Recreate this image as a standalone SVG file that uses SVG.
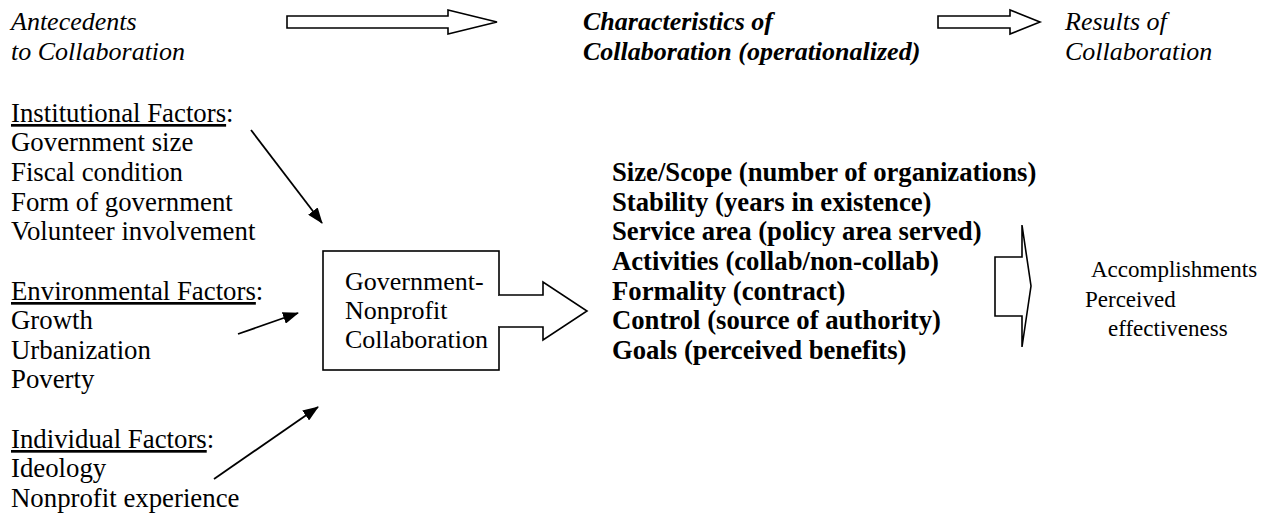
<svg xmlns="http://www.w3.org/2000/svg" width="1267" height="519" viewBox="0 0 1267 519">
  <style>
    text { font-family: "Liberation Serif", "Times New Roman", serif; font-size: 26px; fill: #000; }
    .it { font-style: italic; }
    .bi { font-style: italic; font-weight: bold; }
    .b { font-weight: bold; font-size: 26.7px; }
    .f { font-size: 26.8px; }
    .r { font-size: 23px; }
    .u { text-decoration: underline; }
    .hollow { fill: #fff; stroke: #000; stroke-width: 1.6; stroke-linejoin: miter; }
    .line { fill: none; stroke: #000; stroke-width: 1.8; }
    .box { fill: #fff; stroke: #000; stroke-width: 1.6; }
  </style>
  <defs>
    <marker id="head" viewBox="0 0 16 12" refX="15" refY="6" markerWidth="16" markerHeight="12" markerUnits="userSpaceOnUse" orient="auto">
      <path d="M0,0 L16,6 L0,12 z" fill="#000"/>
    </marker>
  </defs>

  <rect width="1267" height="519" fill="#fff"/>

  <!-- column headings -->
  <g id="heading-antecedents">
    <text class="it" x="11" y="30">Antecedents</text>
    <text class="it" x="11" y="60">to Collaboration</text>
  </g>
  <g id="heading-characteristics">
    <text class="bi" x="583" y="30">Characteristics of</text>
    <text class="bi" x="583" y="60">Collaboration (operationalized)</text>
  </g>
  <g id="heading-results">
    <text class="it" x="1065" y="30">Results of</text>
    <text class="it" x="1065" y="60">Collaboration</text>
  </g>

  <!-- antecedent factor lists -->
  <g id="institutional-factors" class="f">
    <text class="f" x="11" y="122"><tspan class="u">Institutional Factors</tspan>:</text>
    <text class="f" x="11" y="151">Government size</text>
    <text class="f" x="11" y="181">Fiscal condition</text>
    <text class="f" x="11" y="211">Form of government</text>
    <text class="f" x="11" y="240">Volunteer involvement</text>
  </g>
  <g id="environmental-factors">
    <text class="f" x="11" y="300"><tspan class="u">Environmental Factors</tspan>:</text>
    <text class="f" x="11" y="329">Growth</text>
    <text class="f" x="11" y="359">Urbanization</text>
    <text class="f" x="11" y="388">Poverty</text>
  </g>
  <g id="individual-factors">
    <text class="f" x="11" y="448"><tspan class="u">Individual Factors</tspan>:</text>
    <text class="f" x="11" y="477">Ideology</text>
    <text class="f" x="11" y="507">Nonprofit experience</text>
  </g>

  <!-- central collaboration box -->
  <g id="collaboration-box">
    <rect class="box" x="323" y="251" width="176" height="119"/>
    <text x="345" y="290">Government-</text>
    <text x="345" y="319">Nonprofit</text>
    <text x="345" y="348">Collaboration</text>
  </g>

  <!-- characteristics list -->
  <g id="characteristics">
    <text class="b" x="612" y="181">Size/Scope (number of organizations)</text>
    <text class="b" x="612" y="211">Stability (years in existence)</text>
    <text class="b" x="612" y="240">Service area (policy area served)</text>
    <text class="b" x="612" y="270">Activities (collab/non-collab)</text>
    <text class="b" x="612" y="300">Formality (contract)</text>
    <text class="b" x="612" y="329">Control (source of authority)</text>
    <text class="b" x="612" y="359">Goals (perceived benefits)</text>
  </g>

  <!-- results -->
  <g id="results">
    <text class="r" x="1091" y="277">Accomplishments</text>
    <text class="r" x="1085" y="307">Perceived</text>
    <text class="r" x="1108" y="336">effectiveness</text>
  </g>

  <!-- connectors -->
  <g id="connectors">
    <!-- heading block arrows -->
    <polygon class="hollow" points="287,16 448,16 448,10 497,22 448,34 448,28 287,28"/>
    <polygon class="hollow" points="938,16 1010,16 1010,10 1040,22 1010,34 1010,28 938,28"/>

    <!-- factor arrows into the box -->
    <line class="line" x1="251" y1="130" x2="322" y2="223" marker-end="url(#head)"/>
    <line class="line" x1="238" y1="334" x2="298" y2="313" marker-end="url(#head)"/>
    <line class="line" x1="214" y1="479" x2="318" y2="407" marker-end="url(#head)"/>

    <!-- block arrow leaving the box -->
    <rect x="497" y="296" width="5" height="30" fill="#fff"/>
    <path class="hollow" d="M499,295 H543 V282 L587,311 L543,340 V327 H499" style="fill:#fff"/>

    <!-- bracket arrow to results -->
    <path class="line" d="M1022,225 V257 H995 V316 H1022 V347 L1031,286 Z" style="stroke-width:1.6"/>
  </g>
</svg>
